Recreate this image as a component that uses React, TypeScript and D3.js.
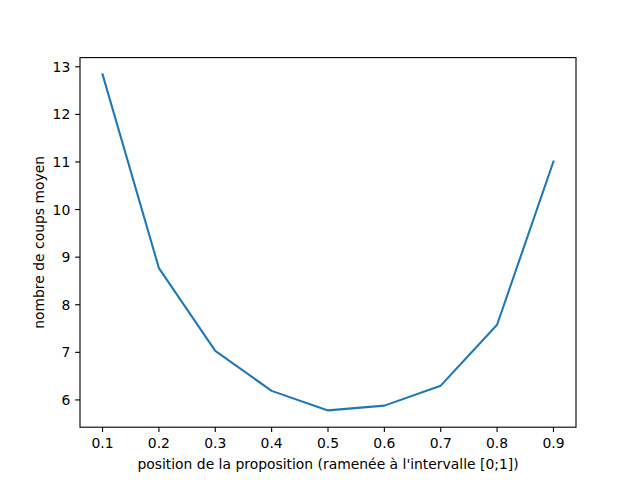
import React from "react";
import * as d3 from "d3";

const positions = [0.1, 0.2, 0.3, 0.4, 0.5, 0.6, 0.7, 0.8, 0.9];
const meanShots = [12.84, 8.77, 7.03, 6.19, 5.78, 5.88, 6.3, 7.58, 11.01];
const xTicks = [0.1, 0.2, 0.3, 0.4, 0.5, 0.6, 0.7, 0.8, 0.9];
const yTicks = [6, 7, 8, 9, 10, 11, 12, 13];
const xLabel = "position de la proposition (ramenée à l'intervalle [0;1])";
const yLabel = "nombre de coups moyen";

export default function App() {
  const W = 640, H = 480;
  const left = 80, right = 576, top = 57.6, bottom = 427.2;
  const xMin = d3.min(positions)!, xMax = d3.max(positions)!;
  const yMin = d3.min(meanShots)!, yMax = d3.max(meanShots)!;
  const xPad = (xMax - xMin) * 0.05, yPad = (yMax - yMin) * 0.05;
  const x = d3.scaleLinear().domain([xMin - xPad, xMax + xPad]).range([left, right]);
  const y = d3.scaleLinear().domain([yMin - yPad, yMax + yPad]).range([bottom, top]);
  const line = d3.line<number>().x((_, i) => x(positions[i])).y((d) => y(d));
  const font = "'DejaVu Sans', sans-serif";
  const fs = 13.9;
  const tl = 4.86;
  return (
    <svg width={W} height={H} style={{ position: "absolute", left: 0, top: 0, background: "#fff" }}>
      <rect x={0} y={0} width={W} height={H} fill="#fff" />
      <path d={line(meanShots) || ""} fill="none" stroke="#1f77b4" strokeWidth={2.08} strokeLinejoin="round" strokeLinecap="square" />
      <rect x={left} y={top} width={right - left} height={bottom - top} fill="none" stroke="#000" strokeWidth={1.11} />
      {xTicks.map((t) => (
        <g key={"x" + t}>
          <line x1={x(t)} x2={x(t)} y1={bottom} y2={bottom + tl} stroke="#000" strokeWidth={1.11} />
          <text x={x(t)} y={bottom + tl + 4.86 + 11} textAnchor="middle" fontFamily={font} fontSize={fs} fill="#000">
            {t.toFixed(1)}
          </text>
        </g>
      ))}
      {yTicks.map((t) => (
        <g key={"y" + t}>
          <line x1={left - tl} x2={left} y1={y(t)} y2={y(t)} stroke="#000" strokeWidth={1.11} />
          <text x={left - tl - 4.86} y={y(t)} dy="0.36em" textAnchor="end" fontFamily={font} fontSize={fs} fill="#000">
            {t}
          </text>
        </g>
      ))}
      <text x={(left + right) / 2} y={469} textAnchor="middle" fontFamily={font} fontSize={fs} fill="#000">
        {xLabel}
      </text>
      <text transform={`translate(44,${(top + bottom) / 2}) rotate(-90)`} textAnchor="middle" fontFamily={font} fontSize={fs} fill="#000">
        {yLabel}
      </text>
    </svg>
  );
}
